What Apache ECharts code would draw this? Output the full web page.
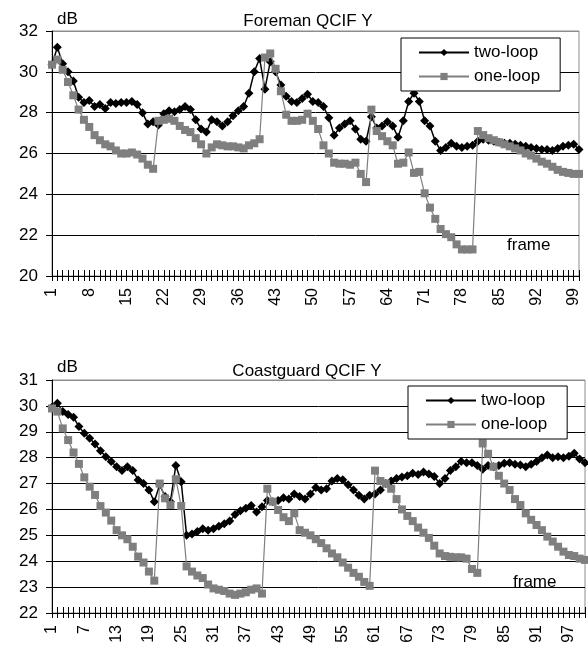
<!DOCTYPE html>
<html><head><meta charset="utf-8">
<script src="https://cdn.jsdelivr.net/npm/echarts@6/dist/echarts.min.js"></script>
<style>html,body{margin:0;padding:0;background:#fff}#c{width:588px;height:646px}</style>
</head><body><div id="c"></div>
<script>
const frames = ['1','2','3','4','5','6','7','8','9','10','11','12','13','14','15','16','17','18','19','20',
'21','22','23','24','25','26','27','28','29','30','31','32','33','34','35','36','37','38','39','40',
'41','42','43','44','45','46','47','48','49','50','51','52','53','54','55','56','57','58','59','60',
'61','62','63','64','65','66','67','68','69','70','71','72','73','74','75','76','77','78','79','80',
'81','82','83','84','85','86','87','88','89','90','91','92','93','94','95','96','97','98','99','100'];

const foremanTwoLoop = [30.35,31.2,30.4,30.0,29.55,28.75,28.5,28.6,28.3,28.4,
28.2,28.5,28.45,28.5,28.5,28.55,28.4,28.0,27.45,27.55,
27.4,27.95,28.1,28.05,28.15,28.3,28.15,27.65,27.2,27.05,
27.65,27.55,27.35,27.55,27.85,28.1,28.3,28.95,30.0,30.65,
29.15,30.5,30.0,29.35,28.8,28.55,28.5,28.7,28.9,28.55,
28.5,28.3,27.75,26.9,27.25,27.45,27.6,27.2,26.7,26.6,
27.8,27.25,27.35,27.55,27.35,26.8,27.6,28.55,28.95,28.55,
27.6,27.35,26.6,26.15,26.3,26.5,26.35,26.3,26.35,26.4,
26.6,26.7,26.65,26.6,26.55,26.5,26.5,26.45,26.4,26.35,
26.3,26.25,26.2,26.2,26.15,26.25,26.35,26.4,26.45,26.2];

const foremanOneLoop = [30.35,30.6,30.1,29.5,28.85,28.15,27.65,27.3,26.9,26.65,
26.45,26.35,26.15,26.0,26.0,26.05,25.95,25.75,25.45,25.25,
27.6,27.65,27.7,27.6,27.35,27.15,27.05,26.75,26.45,26.0,
26.3,26.45,26.4,26.35,26.35,26.3,26.25,26.4,26.5,26.7,
30.7,30.9,30.15,29.05,27.9,27.6,27.6,27.65,27.95,27.6,
27.2,26.4,26.0,25.55,25.5,25.5,25.45,25.55,25.0,24.6,
28.15,27.1,26.85,26.6,26.4,25.5,25.55,26.05,25.05,25.1,
24.05,23.35,22.8,22.3,22.05,21.9,21.55,21.3,21.3,21.3,
27.1,26.9,26.75,26.65,26.55,26.45,26.35,26.25,26.15,26.0,
25.9,25.75,25.6,25.5,25.35,25.2,25.1,25.05,25.0,25.0];

const coastTwoLoop = [29.95,30.1,29.78,29.67,29.56,29.2,28.94,28.75,28.53,28.27,
28.04,27.85,27.65,27.5,27.65,27.5,27.14,27.0,26.75,26.3,
26.95,26.5,26.3,27.7,27.07,25.0,25.05,25.15,25.25,25.2,
25.25,25.35,25.45,25.55,25.8,25.95,26.05,26.15,25.9,26.1,
26.35,26.3,26.35,26.45,26.4,26.6,26.5,26.4,26.6,26.85,
26.75,26.8,27.1,27.2,27.15,26.95,26.75,26.55,26.4,26.55,
26.6,26.75,27.0,27.1,27.2,27.25,27.3,27.4,27.35,27.45,
27.37,27.27,27.0,27.2,27.5,27.65,27.85,27.8,27.8,27.7,
27.55,27.7,27.65,27.7,27.78,27.8,27.75,27.72,27.65,27.75,
27.85,28.0,28.1,28.0,28.04,28.0,28.05,28.17,27.95,27.8];

const coastOneLoop = [29.9,29.78,29.13,28.68,28.2,27.76,27.24,26.88,26.56,26.13,
25.88,25.57,25.2,25.0,24.85,24.56,24.18,23.95,23.6,23.25,
27.0,26.43,26.17,27.17,26.13,23.8,23.6,23.45,23.35,23.1,
22.95,22.9,22.85,22.75,22.7,22.75,22.8,22.9,22.95,22.75,
26.8,26.3,25.98,25.7,25.55,25.85,25.2,25.1,25.0,24.85,
24.7,24.5,24.3,24.15,23.95,23.75,23.55,23.4,23.2,23.05,
27.5,27.1,27.0,26.8,26.4,26.0,25.75,25.55,25.3,25.1,
24.9,24.6,24.3,24.2,24.17,24.15,24.15,24.1,23.7,23.55,
28.55,28.15,27.65,27.3,27.0,26.75,26.4,26.17,25.85,25.6,
25.4,25.2,24.95,24.76,24.56,24.37,24.24,24.2,24.1,24.05];

const foremanYTicks = [20,22,24,26,28,30,32];
const coastYTicks = [22,23,24,25,26,27,28,29,30,31];
const seriesNames = ['two-loop','one-loop'];
const titles = ['Foreman QCIF Y','Coastguard QCIF Y'];

const FONT = 'Liberation Sans, Arial, sans-serif';
const chart = echarts.init(document.getElementById('c'), null, {renderer:'canvas'});

function yAxis(gi, ticks) {
  const colors = ticks.map((t,i) => i === ticks.length-1 ? '#8c8c8c' : '#000');
  return {
    gridIndex: gi, type:'value', min: ticks[0], max: ticks[ticks.length-1],
    interval: ticks[1]-ticks[0],
    axisLine:{show:true, lineStyle:{color:'#000', width:1}},
    axisTick:{show:true, length:6, lineStyle:{color:'#000'}},
    axisLabel:{color:'#000', fontSize:17, fontFamily:FONT, margin:14},
    splitLine:{show:true, lineStyle:{color:colors, width:1}}
  };
}
function xAxes(gi, labelInterval) {
  return [{
    gridIndex: gi, type:'category', data: frames, boundaryGap:false,
    axisLine:{show:true, onZero:false, lineStyle:{color:'#000', width:1}},
    axisTick:{show:true, interval:0, length:5, lineStyle:{color:'#000'}},
    axisLabel:{interval:labelInterval, rotate:90, color:'#000', fontSize:16, fontFamily:FONT, margin:12},
    splitLine:{show:false}
  },{
    gridIndex: gi, type:'category', data: frames, boundaryGap:false, position:'bottom',
    axisLine:{show:false, onZero:false},
    axisTick:{show:true, inside:true, interval:0, length:6, lineStyle:{color:'#000'}},
    axisLabel:{show:false}, splitLine:{show:false}
  }];
}
function twoSeries(xi, yi, d) {
  return {
    name: seriesNames[0], type:'line', xAxisIndex:xi, yAxisIndex:yi, data:d,
    symbol:'diamond', symbolSize:9, showAllSymbol:true,
    lineStyle:{color:'#000', width:1.5}, itemStyle:{color:'#000'}, z:2
  };
}
function oneSeries(xi, yi, d) {
  return {
    name: seriesNames[1], type:'line', xAxisIndex:xi, yAxisIndex:yi, data:d,
    symbol:'rect', symbolSize:8, showAllSymbol:true,
    lineStyle:{color:'#7f7f7f', width:1.2}, itemStyle:{color:'#7f7f7f'}, z:3
  };
}
function legend(left, top) {
  return {
    data: seriesNames, orient:'vertical', left:left, top:top,
    padding:[6,20,6,17], itemGap:7, itemWidth:50, itemHeight:9,
    borderColor:'#000', borderWidth:1, backgroundColor:'#fff', borderRadius:0,
    textStyle:{color:'#000', fontSize:17, fontFamily:FONT},
    selectedMode:false
  };
}

const option = {
  animation:false,
  backgroundColor:'#fff',
  textStyle:{fontFamily:FONT},
  title:[
    {text:titles[0], left:303, top:8, textAlign:'center', textStyle:{fontSize:17, fontWeight:'normal', color:'#000', fontFamily:FONT}},
    {text:titles[1], left:302, top:358, textAlign:'center', textStyle:{fontSize:17, fontWeight:'normal', color:'#000', fontFamily:FONT}}
  ],
  graphic:[
    {type:'text', left:57, top:11, style:{text:'dB', fontSize:17, fill:'#000', fontFamily:FONT}},
    {type:'text', left:507, top:237, style:{text:'frame', fontSize:17, fill:'#000', fontFamily:FONT}},
    {type:'text', left:57, top:359, style:{text:'dB', fontSize:17, fill:'#000', fontFamily:FONT}},
    {type:'text', left:513, top:574, style:{text:'frame', fontSize:17, fill:'#000', fontFamily:FONT}}
  ],
  grid:[
    {left:52, top:31, width:527, height:245, show:true, borderColor:'#8c8c8c', borderWidth:1, backgroundColor:'transparent'},
    {left:52, top:380, width:533, height:233, show:true, borderColor:'#8c8c8c', borderWidth:1, backgroundColor:'transparent'}
  ],
  legend:[legend(401,38), legend(408,386)],
  xAxis: xAxes(0,6).concat(xAxes(1,5)),
  yAxis:[yAxis(0, foremanYTicks), yAxis(1, coastYTicks)],
  series:[
    twoSeries(0,0,foremanTwoLoop), oneSeries(0,0,foremanOneLoop),
    twoSeries(2,1,coastTwoLoop), oneSeries(2,1,coastOneLoop)
  ]
};
chart.setOption(option);
</script></body></html>
